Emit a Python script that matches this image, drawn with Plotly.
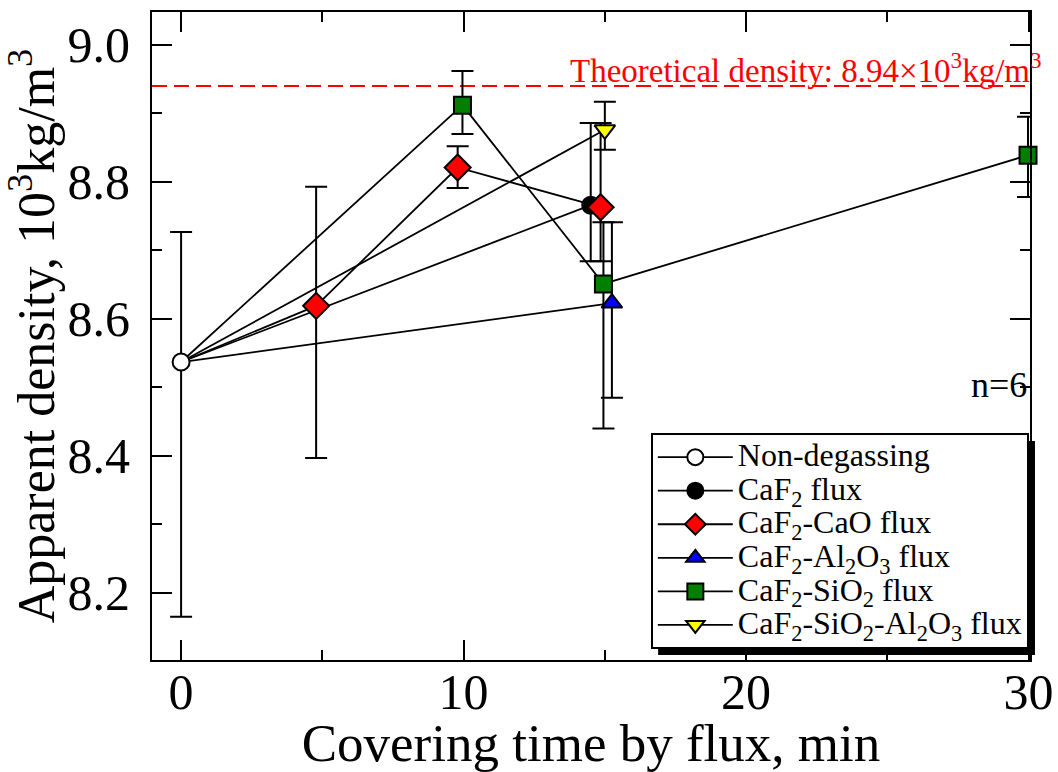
import plotly.graph_objects as go

FONT = "Liberation Serif"

# ---------------- data ----------------
nd_x = [0.0]
nd_y = [8.537]
nd_up = [0.19]
nd_dn = [0.372]

caf2_x = [14.5]
caf2_y = [8.766]
caf2_up = [0.12]
caf2_dn = [0.082]

cao_x = [4.78, 9.79, 14.85]
cao_y = [8.619, 8.821, 8.763]
cao_up = [0.174, 0.031, 0.123]
cao_dn = [0.222, 0.030, 0.079]

al2o3_x = [15.25]
al2o3_y = [8.623]
al2o3_up = [0.118]
al2o3_dn = [0.138]

sio2_x = [9.96, 14.95, 29.98]
sio2_y = [8.912, 8.651, 8.839]
sio2_up = [0.05, 0.09, 0.056]
sio2_dn = [0.042, 0.211, 0.061]

sial_x = [15.0]
sial_y = [8.876]
sial_up = [0.041]
sial_dn = [0.029]

theoretical_density = 8.94

x_ticks = [0, 10, 20, 30]
y_ticks = [8.2, 8.4, 8.6, 8.8, 9.0]

# ---------------- styling ----------------
LEG = '<span style="font-size:32px">{}</span>'
series = [
    dict(name="CaF<sub>2</sub> flux", x=caf2_x, y=caf2_y, up=caf2_up, dn=caf2_dn,
         symbol="circle", color="black", size=17, rank=2),
    dict(name="CaF<sub>2</sub>-CaO flux", x=cao_x, y=cao_y, up=cao_up, dn=cao_dn,
         symbol="diamond", color="#ff0000", size=20, rank=3),
    dict(name="CaF<sub>2</sub>-Al<sub>2</sub>O<sub>3</sub> flux", x=al2o3_x, y=al2o3_y,
         up=al2o3_up, dn=al2o3_dn, symbol="triangle-up", color="#0000ff", size=18, rank=4),
    dict(name="CaF<sub>2</sub>-SiO<sub>2</sub> flux", x=sio2_x, y=sio2_y, up=sio2_up, dn=sio2_dn,
         symbol="square", color="#007f00", size=17, rank=5),
    dict(name="CaF<sub>2</sub>-SiO<sub>2</sub>-Al<sub>2</sub>O<sub>3</sub> flux", x=sial_x, y=sial_y,
         up=sial_up, dn=sial_dn, symbol="triangle-down", color="#ffff00", size=18, rank=6),
]

fig = go.Figure()

# connector lines from the non-degassing point to each series' first point
for s in series:
    fig.add_trace(go.Scatter(
        x=[nd_x[0], s["x"][0]], y=[nd_y[0], s["y"][0]], mode="lines",
        line=dict(color="black", width=1.8), showlegend=False, hoverinfo="skip",
        cliponaxis=False))

# theoretical density line
fig.add_hline(y=theoretical_density, line=dict(color="#ff0000", width=2, dash="15px,7px"), layer="below")

for s in series:
    fig.add_trace(go.Scatter(
        x=s["x"], y=s["y"], mode="lines+markers", name=LEG.format(s["name"]),
        legendrank=s["rank"], cliponaxis=False,
        line=dict(color="black", width=1.8),
        marker=dict(symbol=s["symbol"], size=s["size"], color=s["color"],
                    line=dict(color="black", width=2)),
        error_y=dict(type="data", symmetric=False, array=s["up"], arrayminus=s["dn"],
                     color="black", thickness=2, width=11),
    ))

fig.add_trace(go.Scatter(
    x=nd_x, y=nd_y, mode="lines+markers", name=LEG.format("Non-degassing"), legendrank=1,
    cliponaxis=False,
    line=dict(color="black", width=1.8),
    marker=dict(symbol="circle", size=17, color="white", line=dict(color="black", width=2)),
    error_y=dict(type="data", symmetric=False, array=nd_up, arrayminus=nd_dn,
                 color="black", thickness=2, width=11),
))

axis_common = dict(
    showline=True, linecolor="black", linewidth=2, mirror="ticks",
    ticks="inside", ticklen=20, tickwidth=2, tickcolor="black",
    showgrid=False, zeroline=False, automargin=False,
    tickfont=dict(family=FONT, size=50, color="black"),
)

fig.update_xaxes(
    range=[-1.03, 30.05], tickvals=x_ticks,
    minor=dict(dtick=5, tick0=0, ticks="inside", ticklen=10, tickwidth=2, tickcolor="black", showgrid=False),
    ticklabelstandoff=-13,
    title=dict(text="Covering time by flux, min", font=dict(family=FONT, size=53, color="black"), standoff=6),
    **axis_common)
fig.update_yaxes(
    range=[8.102, 9.048], tickvals=y_ticks, ticktext=[f"{v:.1f}" for v in y_ticks],
    minor=dict(dtick=0.1, tick0=8.1, ticks="inside", ticklen=10, tickwidth=2, tickcolor="black", showgrid=False),
    ticklabelstandoff=10,
    title=dict(text="Apparent density, 10<sup>3</sup>kg/m<sup>3</sup>",
               font=dict(family=FONT, size=52, color="black"), standoff=2),
    **axis_common)

PW, PH, PL, PB = 878.3, 648.0, 151.7, 660.0
# legend shadow
fig.add_shape(type="rect", xref="paper", yref="paper",
              x0=(658 - PL) / PW, x1=(1035 - PL) / PW,
              y0=(PB - 655) / PH, y1=(PB - 441) / PH,
              fillcolor="black", line=dict(width=0), layer="above")

fig.add_annotation(
    x=(1044 - PL) / PW, y=(PB - 68) / PH, xref="paper", yref="paper",
    xanchor="right", yanchor="middle", showarrow=False,
    text="Theoretical density: 8.94\u00d710<sup>3</sup>kg/m<sup>3</sup>",
    font=dict(family=FONT, size=33, color="#ff0000"))

fig.add_annotation(
    x=(1029 - PL) / PW, y=(PB - 385) / PH, xref="paper", yref="paper",
    xanchor="right", yanchor="middle", showarrow=False, text="n=6",
    font=dict(family=FONT, size=36, color="black"))

fig.update_layout(
    width=1058, height=772,
    margin=dict(l=152, r=28, t=12, b=112, autoexpand=False),
    paper_bgcolor="white", plot_bgcolor="white",
    font=dict(family=FONT, color="black"),
    legend=dict(x=(650.7 - PL) / PW, y=(PB - 433.4) / PH, xanchor="left", yanchor="top",
                bgcolor="white", bordercolor="black", borderwidth=2, itemwidth=75,
                font=dict(family=FONT, size=23.5, color="black"), tracegroupgap=0),
    showlegend=True,
)

fig.write_html("out.html")
